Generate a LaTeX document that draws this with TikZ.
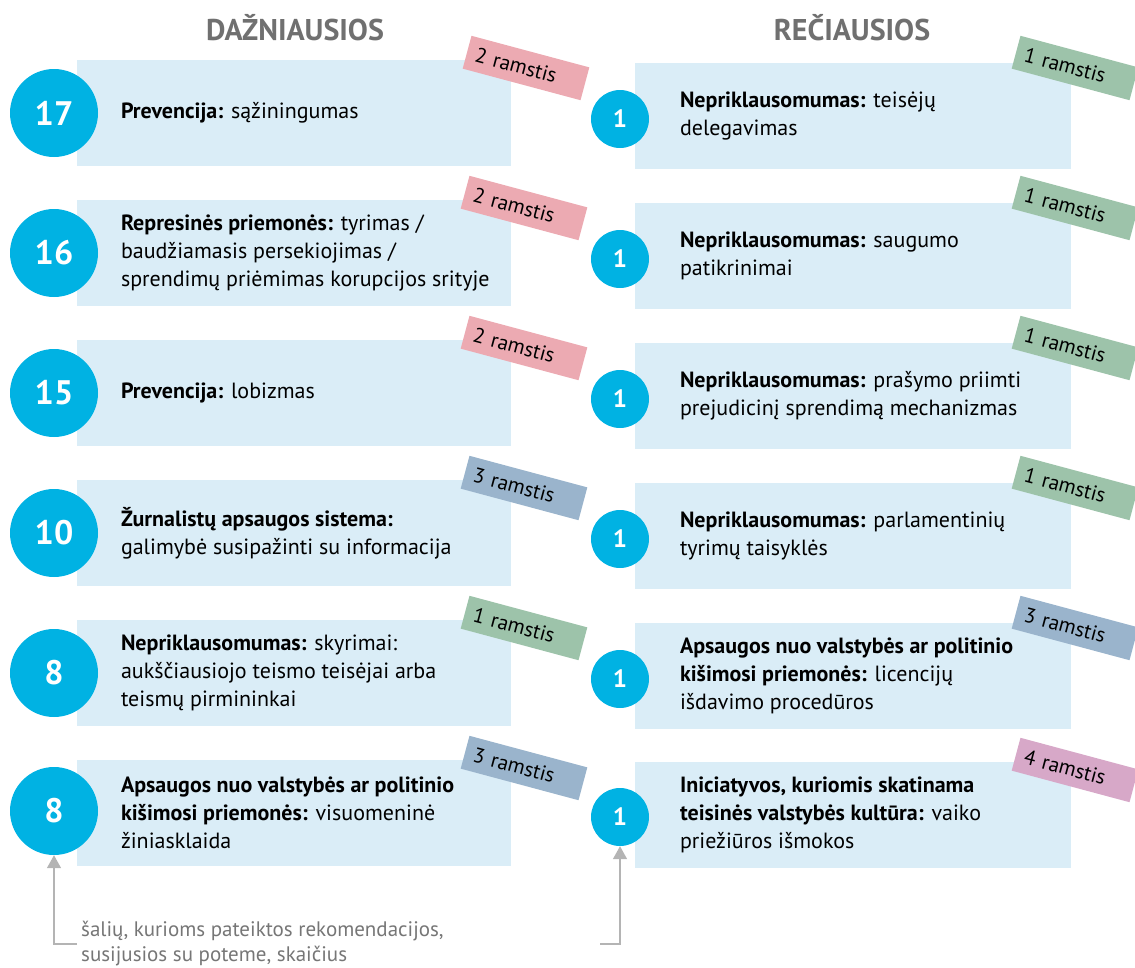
\documentclass[tikz,border=0pt]{standalone}
\usepackage{fontspec}
\setmainfont{PT Sans}
\usetikzlibrary{arrows.meta,positioning}
\definecolor{circblue}{RGB}{0,178,227}
\definecolor{boxblue}{RGB}{218,237,247}
\definecolor{tagone}{RGB}{157,195,170}
\definecolor{tagtwo}{RGB}{236,170,178}
\definecolor{tagthree}{RGB}{154,180,204}
\definecolor{tagfour}{RGB}{215,168,200}
\definecolor{headgray}{RGB}{112,112,112}
\definecolor{notegray}{RGB}{118,118,118}
\definecolor{pointgray}{RGB}{180,180,180}
\begin{document}
\begin{tikzpicture}[x=1pt,y=1pt]
\tikzset{head/.style = {font=\fontsize{30}{30}\selectfont\bfseries, text=headgray}}
\tikzset{box/.style = {fill=boxblue, minimum width=434pt, minimum height=106pt, inner sep=0pt}}
\tikzset{txt/.style = {align=left, inner sep=0pt, font=\fontsize{22}{28}\selectfont}}
\tikzset{bignum/.style = {shape=circle, fill=circblue, minimum size=88pt, inner sep=0pt, text=white, font=\fontsize{34}{34}\selectfont\bfseries}}
\tikzset{smallnum/.style = {shape=circle, fill=circblue, minimum size=58pt, inner sep=0pt, text=white, font=\fontsize{25}{25}\selectfont\bfseries}}
\tikzset{tag/.style = {minimum height=34pt, inner xsep=9pt, inner ysep=0pt, text width=104pt, align=left, rotate=-15, font=\fontsize{21}{21}\selectfont}}
\tikzset{pointer/.style = {draw=pointgray, line width=1.5pt, -{Triangle[length=13pt,width=14pt]}}}
\useasboundingbox (0,0) rectangle (1135,-967);
\node[head] (hl) at (295,-28) {DAŽNIAUSIOS};
\node[head] (hr) at (852,-28) {REČIAUSIOS};
% dažniausios
\node[box] (bl1) at (294,-113) {};
\node[box] (bl2) at (294,-253) {};
\node[box] (bl3) at (294,-393) {};
\node[box] (bl4) at (294,-533) {};
\node[box] (bl5) at (294,-673) {};
\node[box] (bl6) at (294,-813) {};
\node[txt, right=44pt of bl1.west] (tl1) {\textbf{Prevencija:} sąžiningumas};
\node[txt, right=44pt of bl2.west] (tl2) {\textbf{Represinės priemonės:} tyrimas /\\baudžiamasis persekiojimas /\\sprendimų priėmimas korupcijos srityje};
\node[txt, right=44pt of bl3.west] (tl3) {\textbf{Prevencija:} lobizmas};
\node[txt, right=44pt of bl4.west] (tl4) {\textbf{Žurnalistų apsaugos sistema:}\\galimybė susipažinti su informacija};
\node[txt, right=44pt of bl5.west] (tl5) {\textbf{Nepriklausomumas:} skyrimai:\\aukščiausiojo teismo teisėjai arba\\teismų pirmininkai};
\node[txt, right=44pt of bl6.west] (tl6) {\textbf{Apsaugos nuo valstybės ar politinio}\\\textbf{kišimosi priemonės:} visuomeninė\\žiniasklaida};
\node[bignum] (cl1) at (54,-113) {17};
\node[bignum] (cl2) at (54,-253) {16};
\node[bignum] (cl3) at (54,-393) {15};
\node[bignum] (cl4) at (54,-533) {10};
\node[bignum] (cl5) at (54,-673) {8};
\node[bignum] (cl6) at (54,-811) {8};
\node[tag, fill=tagtwo] (gl1) at (526,-68) {2 ramstis};
\node[tag, fill=tagtwo] (gl2) at (524,-208) {2 ramstis};
\node[tag, fill=tagtwo] (gl3) at (524,-348) {2 ramstis};
\node[tag, fill=tagthree] (gl4) at (524,-488) {3 ramstis};
\node[tag, fill=tagone] (gl5) at (524,-628) {1 ramstis};
\node[tag, fill=tagthree] (gl6) at (524,-768) {3 ramstis};
% rečiausios
\node[box, minimum width=436pt] (br1) at (853,-116) {};
\node[box, minimum width=436pt] (br2) at (853,-256) {};
\node[box, minimum width=436pt] (br3) at (853,-396) {};
\node[box, minimum width=436pt] (br4) at (853,-536) {};
\node[box, minimum width=436pt] (br5) at (853,-676) {};
\node[box, minimum width=436pt] (br6) at (853,-815) {};
\node[txt, right=45pt of br1.west] (tr1) {\textbf{Nepriklausomumas:} teisėjų\\delegavimas};
\node[txt, right=45pt of br2.west] (tr2) {\textbf{Nepriklausomumas:} saugumo\\patikrinimai};
\node[txt, right=45pt of br3.west] (tr3) {\textbf{Nepriklausomumas:} prašymo priimti\\prejudicinį sprendimą mechanizmas};
\node[txt, right=45pt of br4.west] (tr4) {\textbf{Nepriklausomumas:} parlamentinių\\tyrimų taisyklės};
\node[txt, right=45pt of br5.west] (tr5) {\textbf{Apsaugos nuo valstybės ar politinio}\\\textbf{kišimosi priemonės:} licencijų\\išdavimo procedūros};
\node[txt, right=45pt of br6.west] (tr6) {\textbf{Iniciatyvos, kuriomis skatinama}\\\textbf{teisinės valstybės kultūra:} vaiko\\priežiūros išmokos};
\node[smallnum] (cr1) at (620,-119) {1};
\node[smallnum] (cr2) at (620,-259) {1};
\node[smallnum] (cr3) at (620,-399) {1};
\node[smallnum] (cr4) at (620,-539) {1};
\node[smallnum] (cr5) at (620,-679) {1};
\node[smallnum] (cr6) at (620,-817) {1};
\node[tag, fill=tagone] (gr1) at (1075,-68) {1 ramstis};
\node[tag, fill=tagone] (gr2) at (1075,-208) {1 ramstis};
\node[tag, fill=tagone] (gr3) at (1075,-348) {1 ramstis};
\node[tag, fill=tagone] (gr4) at (1075,-488) {1 ramstis};
\node[tag, fill=tagthree] (gr5) at (1075,-628) {3 ramstis};
\node[tag, fill=tagfour] (gr6) at (1075,-770) {4 ramstis};
% paaiškinimas
\node[txt, anchor=west, text=notegray, font=\fontsize{21}{25}\selectfont] (note) at (81,-944) {šalių, kurioms pateiktos rekomendacijos,\\susijusios su poteme, skaičius};
\coordinate (rnote) at (600,-944);
\draw[pointer] ([xshift=-4pt]note.west) -| (cl6.south);
\draw[pointer] (rnote) -| (cr6.south);
\end{tikzpicture}
\end{document}
